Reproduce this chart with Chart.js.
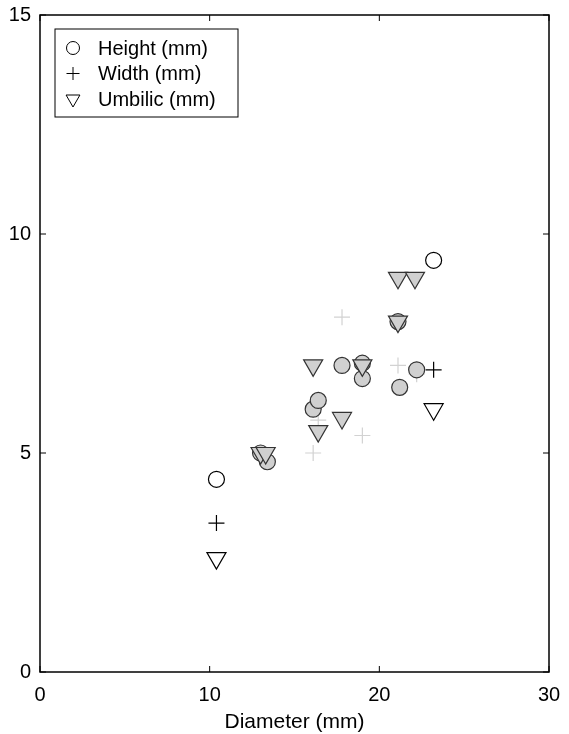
<!DOCTYPE html>
<html>
<head>
<meta charset="utf-8">
<script src="https://cdn.jsdelivr.net/npm/chart.js@4"></script>
<style>
  html, body { margin: 0; padding: 0; background: #fff; }
  #wrap { width: 569px; height: 734px; }
</style>
</head>
<body>
<div id="wrap"><canvas id="shellchart"></canvas></div>
<script>
// highlighted specimen (open markers, in legend)
const mainHeight = [{x: 10.4, y: 4.4}, {x: 23.2, y: 9.4}];
const mainWidth = [{x: 10.4, y: 3.4}, {x: 23.2, y: 6.9}];
const mainUmbilic = [{x: 10.4, y: 2.6}, {x: 23.2, y: 6.0}];

// other specimens (grey markers)
const otherHeight = [
  {x: 13.0, y: 5.0}, {x: 13.4, y: 4.8}, {x: 16.1, y: 6.0}, {x: 16.4, y: 6.2},
  {x: 17.8, y: 7.0}, {x: 19.0, y: 6.7}, {x: 19.0, y: 7.05}, {x: 21.1, y: 8.0},
  {x: 21.2, y: 6.5}, {x: 22.2, y: 6.9}
];
const otherWidth = [
  {x: 16.1, y: 5.0}, {x: 16.4, y: 5.75}, {x: 17.8, y: 8.1}, {x: 19.0, y: 5.4},
  {x: 21.1, y: 7.0}, {x: 22.2, y: 6.8}
];
const otherUmbilic = [
  {x: 13.0, y: 5.0}, {x: 13.3, y: 5.0}, {x: 16.1, y: 7.0}, {x: 16.4, y: 5.5},
  {x: 17.8, y: 5.8}, {x: 19.0, y: 7.0}, {x: 21.1, y: 8.0}, {x: 21.1, y: 9.0},
  {x: 22.1, y: 9.0}
];

const xTicks = [0, 10, 20, 30];
const yTicks = [0, 5, 10, 15];
const legendLabels = ['Height (mm)', 'Width (mm)', 'Umbilic (mm)'];

const FONT = '"Liberation Sans", Arial, sans-serif';

// box frame, inward ticks and the boxed legend
const framePlugin = {
  id: 'frame',
  afterDraw(chart) {
    const {ctx, chartArea: a, scales} = chart;
    ctx.save();
    ctx.strokeStyle = '#000';
    ctx.lineWidth = 1.5;
    ctx.strokeRect(a.left, a.top, a.right - a.left, a.bottom - a.top);
    const t = 6;
    ctx.lineWidth = 1;
    ctx.beginPath();
    xTicks.forEach(v => {
      const px = scales.x.getPixelForValue(v);
      ctx.moveTo(px, a.bottom); ctx.lineTo(px, a.bottom - t);
      ctx.moveTo(px, a.top); ctx.lineTo(px, a.top + t);
    });
    yTicks.forEach(v => {
      const py = scales.y.getPixelForValue(v);
      ctx.moveTo(a.left, py); ctx.lineTo(a.left + t, py);
      ctx.moveTo(a.right, py); ctx.lineTo(a.right - t, py);
    });
    ctx.stroke();

    // legend
    const lx = a.left + 15, ly = a.top + 14, lw = 183, lh = 88;
    ctx.fillStyle = '#fff';
    ctx.fillRect(lx, ly, lw, lh);
    ctx.lineWidth = 1;
    ctx.strokeRect(lx, ly, lw, lh);
    const styles = ['circle', 'cross', 'triangle'];
    ctx.font = '20px ' + FONT;
    ctx.textBaseline = 'middle';
    legendLabels.forEach((lab, i) => {
      const cy = ly + 19 + i * 25.5;
      ctx.fillStyle = '#fff';
      ctx.strokeStyle = '#000';
      ctx.lineWidth = 1;
      Chart.helpers.drawPoint(ctx, {
        pointStyle: styles[i],
        radius: i === 2 ? 8 : 6.5,
        rotation: i === 2 ? 180 : 0,
        borderWidth: 1
      }, lx + 18, cy);
      ctx.fillStyle = '#000';
      ctx.fillText(lab, lx + 43, cy + 1);
    });
    ctx.restore();
  }
};

const greyFill = '#d0d0d0';
const greyEdge = '#333';

new Chart(document.getElementById('shellchart'), {
  type: 'scatter',
  data: {
    datasets: [
      {label: legendLabels[0], data: mainHeight, pointStyle: 'circle', pointRadius: 8,
       backgroundColor: '#fff', borderColor: '#000', borderWidth: 1.2, order: 1},
      {label: legendLabels[1], data: mainWidth, pointStyle: 'cross', pointRadius: 8,
       backgroundColor: '#000', borderColor: '#000', borderWidth: 1.2, order: 1},
      {label: legendLabels[2], data: mainUmbilic, pointStyle: 'triangle', pointRadius: 11,
       rotation: 180, backgroundColor: '#fff', borderColor: '#000', borderWidth: 1.2, order: 1},
      {label: 'Height other', data: otherHeight, pointStyle: 'circle', pointRadius: 8,
       backgroundColor: greyFill, borderColor: greyEdge, borderWidth: 1.2, order: 3},
      {label: 'Width other', data: otherWidth, pointStyle: 'cross', pointRadius: 8,
       backgroundColor: '#ccc', borderColor: '#d2d2d2', borderWidth: 1.2, order: 4},
      {label: 'Umbilic other', data: otherUmbilic, pointStyle: 'triangle', pointRadius: 11,
       rotation: 180, backgroundColor: greyFill, borderColor: greyEdge, borderWidth: 1.2, order: 2}
    ]
  },
  options: {
    responsive: true,
    maintainAspectRatio: false,
    animation: false,
    layout: {padding: {top: 15, right: 20, left: 0, bottom: 0}},
    plugins: {
      legend: {display: false},
      tooltip: {enabled: false}
    },
    scales: {
      x: {
        type: 'linear', min: 0, max: 30,
        afterBuildTicks: s => { s.ticks = xTicks.map(v => ({value: v})); },
        afterFit: s => { s.height = 62; s.paddingLeft = 0; s.paddingRight = 0; },
        grid: {display: false, drawTicks: false},
        border: {display: false},
        ticks: {color: '#000', padding: 11, font: {family: FONT, size: 20}},
        title: {display: true, text: 'Diameter (mm)', color: '#000', padding: {top: 0, bottom: -1},
                font: {family: FONT, size: 21}}
      },
      y: {
        type: 'linear', min: 0, max: 15,
        afterBuildTicks: s => { s.ticks = yTicks.map(v => ({value: v})); },
        afterFit: s => { s.width = 40; s.paddingTop = 0; s.paddingBottom = 0; },
        grid: {display: false, drawTicks: false},
        border: {display: false},
        ticks: {color: '#000', padding: 9, font: {family: FONT, size: 20}}
      }
    }
  },
  plugins: [framePlugin]
});
</script>
</body>
</html>
